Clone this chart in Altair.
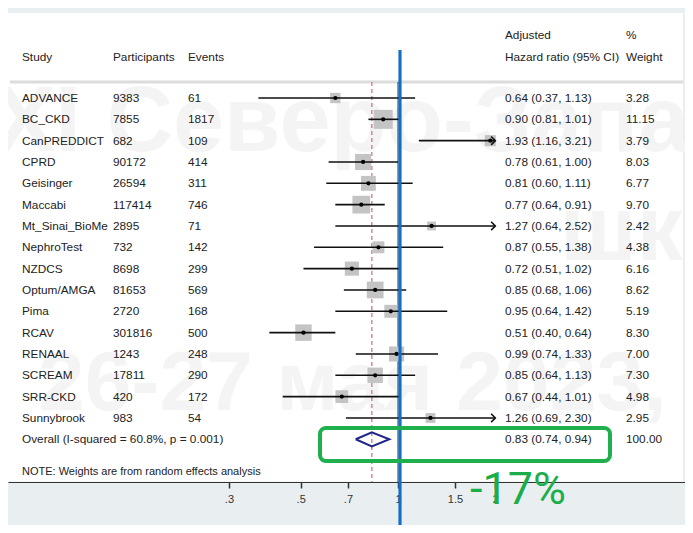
import altair as alt
import pandas as pd
import math

# ---------------- data ----------------
studies = ["ADVANCE", "BC_CKD", "CanPREDDICT", "CPRD", "Geisinger", "Maccabi",
           "Mt_Sinai_BioMe", "NephroTest", "NZDCS", "Optum/AMGA", "Pima", "RCAV",
           "RENAAL", "SCREAM", "SRR-CKD", "Sunnybrook"]
participants = [9383, 7855, 682, 90172, 26594, 117414, 2895, 732, 8698, 81653,
                2720, 301816, 1243, 17811, 420, 983]
events = [61, 1817, 109, 414, 311, 746, 71, 142, 299, 569, 168, 500, 248, 290, 172, 54]
hr = [0.64, 0.90, 1.93, 0.78, 0.81, 0.77, 1.27, 0.87, 0.72, 0.85, 0.95, 0.51,
      0.99, 0.85, 0.67, 1.26]
lo = [0.37, 0.81, 1.16, 0.61, 0.60, 0.64, 0.64, 0.55, 0.51, 0.68, 0.64, 0.40,
      0.74, 0.64, 0.44, 0.69]
hi = [1.13, 1.01, 3.21, 1.00, 1.11, 0.91, 2.52, 1.38, 1.02, 1.06, 1.42, 0.64,
      1.33, 1.13, 1.01, 2.30]
weight = [3.28, 11.15, 3.79, 8.03, 6.77, 9.70, 2.42, 4.38, 6.16, 8.62, 5.19, 8.30,
          7.00, 7.30, 4.98, 2.95]
overall_hr, overall_lo, overall_hi = 0.83, 0.74, 0.94
overall_weight = "100.00"
i_squared, p_value = 60.8, 0.001
axis_ticks = [0.3, 0.5, 0.7, 1, 1.5, 2]
axis_max = 2
reduction_label = "-17%"

# ---------------- layout ----------------
W, H, PADB = 677, 474, 43
ROW0, DY = 90.0, 21.33
ymin = -ROW0 / DY
ymax = ymin + H / DY
PX_PER_LN = 140.4
X1 = 390.0
xdom = [math.exp(-X1 / PX_PER_LN), math.exp((W - X1) / PX_PER_LN)]

FONT = "Liberation Sans"
TXT = "#222222"
FS = 11.8
WM = "#f4f4f4"

xs = alt.Scale(type="log", domain=xdom, nice=False)
ys = alt.Scale(domain=[ymin, ymax], reverse=True, nice=False, zero=False)
xaxis = alt.Axis(values=axis_ticks, orient="bottom", title=None, grid=False,
                 labelExpr="datum.value < 1 ? replace(toString(datum.value), '0.', '.') : toString(datum.value)",
                 tickSize=6, tickWidth=1.5, tickColor="#333333", domainColor="#333333",
                 domainWidth=1.2, labelFontSize=11, labelColor="#333333", labelFont=FONT,
                 labelPadding=5, labelFlush=False, labelOverlap=False)

n = len(studies)
df = pd.DataFrame({
    "row": list(range(n)),
    "study": studies,
    "participants": [str(v) for v in participants],
    "events": [str(v) for v in events],
    "hr": hr, "lo": lo, "hi": hi, "w": weight,
})
df["hi_c"] = [min(v, axis_max) for v in hi]
df["hr_text"] = [f"{a:.2f} ({b:.2f}, {c:.2f})" for a, b, c in zip(hr, lo, hi)]
df["w_text"] = [f"{v:.2f}" for v in weight]
arrows = df[df["hi"] > axis_max].copy()
arrows["tip"] = axis_max

ov_row = n
ov = pd.DataFrame({
    "row": [ov_row],
    "study": [f"Overall  (I-squared = {i_squared}%, p = {p_value})"],
    "hr_text": [f"{overall_hr:.2f} ({overall_lo:.2f}, {overall_hi:.2f})"],
    "w_text": [overall_weight],
})
dh = 0.33
diamond = pd.DataFrame({
    "x": [overall_lo, overall_hr, overall_hi, overall_hr, overall_lo],
    "row": [ov_row, ov_row - dh, ov_row, ov_row + dh, ov_row],
    "o": [0, 1, 2, 3, 4],
})
ref = pd.DataFrame({"x": [1.0], "ov": [overall_hr], "r1": [-0.75], "r2": [(H - ROW0) / DY]})

X = lambda f: alt.X(f, scale=xs, axis=xaxis)
Y = lambda f: alt.Y(f, scale=ys, axis=None)

base_empty = alt.Chart(pd.DataFrame({"a": [0]}))

panel = base_empty.mark_rect(color="white").encode(
    x=alt.value(0), x2=alt.value(675), y=alt.value(5), y2=alt.value(473.5))

wm1 = base_empty.mark_text(text="XI Северо-Западная", font=FONT, fontWeight="bold", fontSize=92,
                           color=WM, align="left", baseline="alphabetic").encode(
    x=alt.value(-14), y=alt.value(143))
wm2 = base_empty.mark_text(text="школа", font=FONT, fontWeight="bold", fontSize=92,
                           color=WM, align="left", baseline="alphabetic").encode(
    x=alt.value(552), y=alt.value(252))
wm3 = base_empty.mark_text(text="26-27 мая 2023,", font=FONT, fontWeight="bold", fontSize=84,
                           color=WM, align="left", baseline="alphabetic").encode(
    x=alt.value(30), y=alt.value(402))

hline = base_empty.mark_rule(color="#dcdcdc", strokeWidth=3).encode(
    x=alt.value(2), x2=alt.value(675), y=alt.value(74))

refline = alt.Chart(ref).mark_rule(color="#333333", strokeWidth=1).encode(
    x=X("x:Q"), y=Y("r1:Q"), y2="r2:Q")
ovline = alt.Chart(ref).mark_rule(color="#cf7b7b", strokeWidth=1.3, strokeDash=[4, 3]).encode(
    x=X("ov:Q"), y=Y("r1:Q"), y2="r2:Q")

squares = alt.Chart(df).mark_square(color="#c4c4c4", opacity=1).encode(
    x=X("hr:Q"), y=Y("row:Q"),
    size=alt.Size("w:Q", scale=alt.Scale(domain=[0, 12], range=[0, 390]), legend=None))
ci = alt.Chart(df).mark_rule(color="#111111", strokeWidth=1.6).encode(
    x=X("lo:Q"), x2="hi_c:Q", y=Y("row:Q"))
arrowheads = alt.Chart(arrows).mark_point(shape="M -1 -1 L 0 0 L -1 1", filled=False,
                                          color="#111111", strokeWidth=1.6, size=70, opacity=1).encode(
    x=X("tip:Q"), y=Y("row:Q"))
dots = alt.Chart(df).mark_circle(color="#000000", size=18, opacity=1).encode(
    x=X("hr:Q"), y=Y("row:Q"))
dia = alt.Chart(diamond).mark_line(color="#1f2687", strokeWidth=2).encode(
    x=X("x:Q"), y=Y("row:Q"), order="o:Q")

def col(data, field, px, size=FS):
    return alt.Chart(data).mark_text(font=FONT, fontSize=size, color=TXT, align="left",
                                     baseline="middle").encode(
        x=alt.value(px), y=Y("row:Q"), text=f"{field}:N")

t_study = col(df, "study", 14)
t_part = col(df, "participants", 105)
t_ev = col(df, "events", 180)
t_hr = col(df, "hr_text", 497)
t_w = col(df, "w_text", 618)
t_ov = col(ov, "study", 14)
t_ovhr = col(ov, "hr_text", 497)
t_ovw = col(ov, "w_text", 618)

hdr = pd.DataFrame({
    "row": [-1.922, -1.922, -1.922, -2.954, -1.922, -2.954, -1.922, 17.53],
    "t": ["Study", "Participants", "Events", "Adjusted", "Hazard ratio (95% CI)", "%", "Weight",
          "NOTE: Weights are from random effects analysis"],
})
hdr_layers = []
for i, px in enumerate([14, 105, 180, 497, 497, 618, 618, 14]):
    hdr_layers.append(col(hdr.iloc[[i]], "t", px, size=(11 if i == 7 else FS)))

blue = alt.Chart(ref).mark_rule(color="#1470c6", strokeWidth=3.2, xOffset=2).encode(
    x=X("x:Q"), y=alt.value(42), y2=alt.value(517))

green_box = base_empty.mark_rect(fillOpacity=0, stroke="#1fb04e", strokeWidth=4, cornerRadius=6).encode(
    x=alt.value(312), x2=alt.value(602), y=alt.value(420), y2=alt.value(453))
green_txt = base_empty.mark_text(text=reduction_label, font="Roboto", fontWeight=400, fontSize=45,
                                 color="#1aae4b", align="center", baseline="alphabetic").encode(
    x=alt.value(510), y=alt.value(496))

chart = alt.layer(
    panel, wm1, wm2, wm3, hline, refline, ovline, squares, ci, arrowheads, dots, dia,
    t_study, t_part, t_ev, t_hr, t_w, t_ov, t_ovhr, t_ovw, *hdr_layers,
    blue, green_box, green_txt,
).properties(
    width=W, height=H,
    autosize=alt.AutoSizeParams(type="none"),
    padding={"left": 0, "top": 0, "right": 0, "bottom": PADB},
    background="#e9eef1",
).configure_view(stroke=None)

chart.save("out.html", embed_options={"renderer": "svg", "actions": False})
